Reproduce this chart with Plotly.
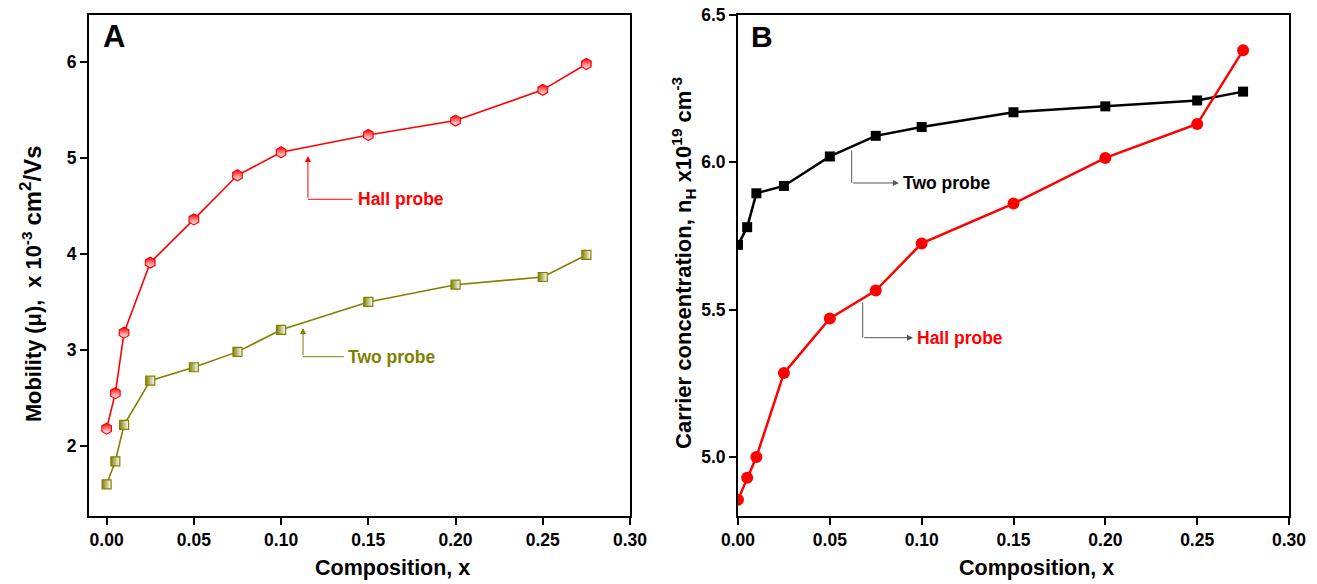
import plotly.graph_objects as go

# ---- data ----
composition = [0.0, 0.005, 0.01, 0.025, 0.05, 0.075, 0.10, 0.15, 0.20, 0.25, 0.275]

mobility_hall = [2.18, 2.55, 3.18, 3.91, 4.36, 4.82, 5.06, 5.24, 5.39, 5.71, 5.98]
mobility_two = [1.60, 1.84, 2.22, 2.68, 2.82, 2.98, 3.21, 3.50, 3.68, 3.76, 3.99]

carrier_two = [5.72, 5.78, 5.895, 5.92, 6.02, 6.09, 6.12, 6.17, 6.19, 6.21, 6.24]
carrier_hall = [4.855, 4.93, 5.00, 5.285, 5.47, 5.565, 5.725, 5.86, 6.015, 6.13, 6.38]

x_ticks = [0.00, 0.05, 0.10, 0.15, 0.20, 0.25, 0.30]
left_y_ticks = [2, 3, 4, 5, 6]
right_y_ticks = [5.0, 5.5, 6.0, 6.5]

RED = "#ff0000"
OLIVE = "#808000"
FONT = "Liberation Sans, Arial, sans-serif"

fig = go.Figure()

# Panel A
fig.add_trace(go.Scatter(
    x=composition, y=mobility_hall, mode="lines+markers", xaxis="x", yaxis="y",
    line=dict(color=RED, width=1.6),
    marker=dict(symbol="hexagon", size=11, color=RED,
                gradient=dict(type="vertical", color="white"),
                line=dict(color=RED, width=1.2)),
    showlegend=False))
fig.add_trace(go.Scatter(
    x=composition, y=mobility_two, mode="lines+markers", xaxis="x", yaxis="y",
    line=dict(color=OLIVE, width=1.6),
    marker=dict(symbol="square", size=9, color=OLIVE,
                gradient=dict(type="horizontal", color="white"),
                line=dict(color=OLIVE, width=1.2)),
    showlegend=False))

# Panel B
fig.add_trace(go.Scatter(
    x=composition, y=carrier_two, mode="lines+markers", xaxis="x2", yaxis="y2",
    line=dict(color="black", width=2.5),
    marker=dict(symbol="square", size=10, color="black"),
    showlegend=False))
fig.add_trace(go.Scatter(
    x=composition, y=carrier_hall, mode="lines+markers", xaxis="x2", yaxis="y2",
    line=dict(color=RED, width=2.5),
    marker=dict(symbol="circle", size=12, color=RED),
    showlegend=False))

axis_common = dict(
    showline=True, linecolor="black", linewidth=2, mirror=True,
    ticks="outside", ticklen=7, tickwidth=2, tickcolor="black",
    showgrid=False, zeroline=False, automargin=False,
    tickfont=dict(family=FONT, size=17.5, color="black", weight="bold"),
)

fig.update_layout(
    width=1317, height=584,
    margin=dict(l=0, r=0, t=15, b=68, autoexpand=False),
    paper_bgcolor="white", plot_bgcolor="white",
    xaxis=dict(domain=[89/1317, 630/1317], range=[-0.0101, 0.30],
               tickvals=x_ticks, tickformat=".2f", anchor="y", **axis_common),
    yaxis=dict(domain=[0, 1], range=[1.27, 6.49], tickvals=left_y_ticks,
               tickformat="d", anchor="x", **axis_common),
    xaxis2=dict(domain=[738/1317, 1289/1317], range=[0, 0.30],
                tickvals=x_ticks, tickformat=".2f", anchor="y2", **axis_common),
    yaxis2=dict(domain=[0, 1], range=[4.8, 6.5], tickvals=right_y_ticks,
                tickformat=".1f", anchor="x2", **axis_common),
)

title_font = dict(family=FONT, size=21.5, color="black", weight="bold")
ann = []
# panel letters
ann.append(dict(text="A", x=-0.003, y=6.47, xref="x", yref="y", xanchor="left", yanchor="top",
                showarrow=False, font=dict(family=FONT, size=31, color="black", weight="bold")))
ann.append(dict(text="B", x=0.006, y=6.49, xref="x2", yref="y2", xanchor="left", yanchor="top",
                showarrow=False, font=dict(family=FONT, size=30, color="black", weight="bold")))
# axis titles
ann.append(dict(text="Composition, x", x=392/1317, y=-0.104, xref="paper", yref="paper",
                xanchor="center", yanchor="middle", showarrow=False, font=title_font))
ann.append(dict(text="Composition, x", x=1036/1317, y=-0.104, xref="paper", yref="paper",
                xanchor="center", yanchor="middle", showarrow=False, font=title_font))
ann.append(dict(text="Mobility (μ),  x 10<sup>-3</sup> <span style='font-size:24px'>cm<sup>2</sup>/Vs</span>",
                x=31/1317, y=0.463,
                xref="paper", yref="paper", xanchor="center", yanchor="middle",
                textangle=-90, showarrow=False, font=dict(family=FONT, size=21.8, color="black", weight="bold")))
ann.append(dict(text="Carrier concentration, n<sub>H</sub> x10<sup>19</sup> cm<sup>-3</sup>",
                x=684/1317, y=0.505, xref="paper", yref="paper", xanchor="center",
                yanchor="middle", textangle=-90, showarrow=False,
                font=dict(family=FONT, size=22, color="black", weight="bold")))

lab_font = dict(family=FONT, size=17.5, weight="bold")

# Panel A callouts
ann.append(dict(x=0.1154, y=5.02, ax=0.1154, ay=4.57, xref="x", yref="y", axref="x", ayref="y",
                showarrow=True, arrowhead=2, arrowsize=1.2, arrowwidth=1, arrowcolor=RED, text=""))
ann.append(dict(text="Hall probe", x=0.143, y=4.57, xref="x", yref="y", xanchor="left",
                yanchor="middle", showarrow=False, font=dict(color=RED, **lab_font)))
ann.append(dict(x=0.1126, y=3.23, ax=0.1126, ay=2.93, xref="x", yref="y", axref="x", ayref="y",
                showarrow=True, arrowhead=2, arrowsize=1.2, arrowwidth=1, arrowcolor=OLIVE, text=""))
ann.append(dict(text="Two probe", x=0.137, y=2.93, xref="x", yref="y", xanchor="left",
                yanchor="middle", showarrow=False, font=dict(color=OLIVE, **lab_font)))

# Panel B callouts
ann.append(dict(x=0.0876, y=5.93, ax=0.0619, ay=5.93, xref="x2", yref="y2", axref="x2", ayref="y2",
                showarrow=True, arrowhead=2, arrowsize=1.2, arrowwidth=1, arrowcolor="#555555", text=""))
ann.append(dict(text="Two probe", x=0.0885, y=5.93, xref="x2", yref="y2", xanchor="left",
                yanchor="middle", showarrow=False, font=dict(color="black", **lab_font)))
ann.append(dict(x=0.0953, y=5.405, ax=0.0679, ay=5.405, xref="x2", yref="y2", axref="x2", ayref="y2",
                showarrow=True, arrowhead=2, arrowsize=1.2, arrowwidth=1, arrowcolor="#555555", text=""))
ann.append(dict(text="Hall probe", x=0.0962, y=5.405, xref="x2", yref="y2", xanchor="left",
                yanchor="middle", showarrow=False, font=dict(color=RED, **lab_font)))

fig.update_layout(annotations=ann)

shapes = [
    dict(type="line", x0=0.1154, y0=4.57, x1=0.141, y1=4.57, xref="x", yref="y",
         line=dict(color=RED, width=1)),
    dict(type="line", x0=0.1126, y0=2.93, x1=0.136, y1=2.93, xref="x", yref="y",
         line=dict(color=OLIVE, width=1)),
    dict(type="line", x0=0.0619, y0=6.04, x1=0.0619, y1=5.93, xref="x2", yref="y2",
         line=dict(color="#555555", width=1)),
    dict(type="line", x0=0.0679, y0=5.525, x1=0.0679, y1=5.405, xref="x2", yref="y2",
         line=dict(color="#555555", width=1)),
]
fig.update_layout(shapes=shapes)

fig.write_html("out.html")
